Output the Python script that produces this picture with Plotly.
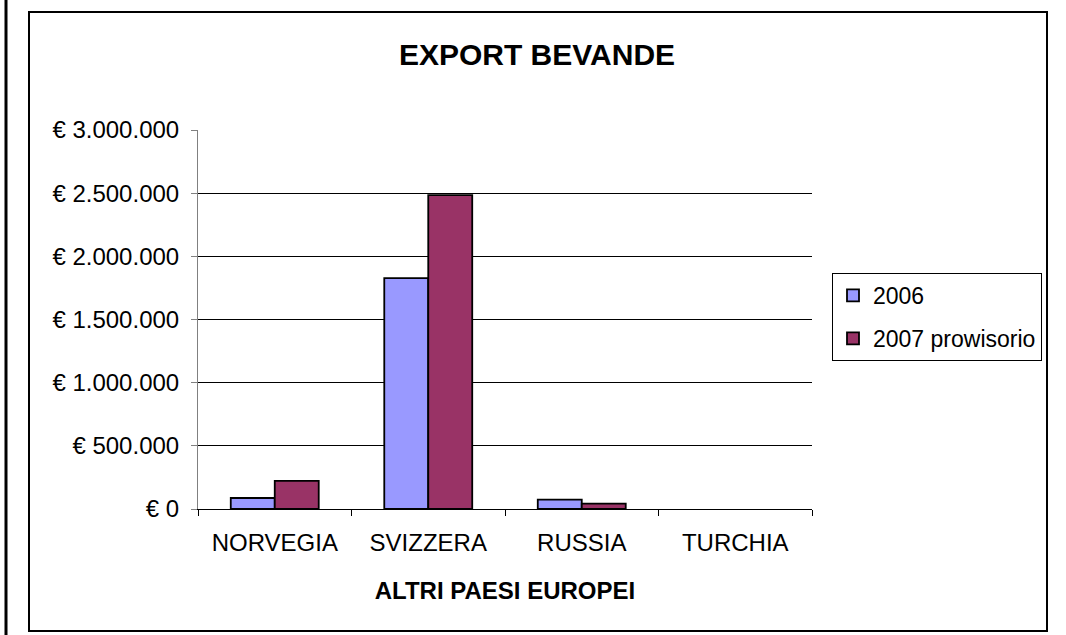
import plotly.graph_objects as go

categories = ["NORVEGIA", "SVIZZERA", "RUSSIA", "TURCHIA"]
series_names = ["2006", "2007 prowisorio"]
values_2006 = [87000, 1828000, 74000, 0]
values_2007 = [222000, 2485000, 42000, 0]
colors = ["#9999FF", "#993366"]
y_tickvals = [0, 500000, 1000000, 1500000, 2000000, 2500000, 3000000]
y_ticktext = ["€ 0", "€ 500.000", "€ 1.000.000", "€ 1.500.000",
              "€ 2.000.000", "€ 2.500.000", "€ 3.000.000"]
title_text = "EXPORT BEVANDE"
x_title = "ALTRI PAESI EUROPEI"

W, H = 1066, 635
L, R, T, B = 198, 812, 130, 509  # plot area in pixels

def px(xp):
    return (xp - L) / (R - L)

def py(yp):
    return (B - yp) / (B - T)

FONT = "Liberation Sans, Arial, sans-serif"

fig = go.Figure()
for name, vals, col in zip(series_names, [values_2006, values_2007], colors):
    fig.add_trace(go.Bar(
        x=categories, y=vals, name=name, legendgroup=name,
        marker=dict(color=col,
                    line=dict(color="black",
                              width=[1.8 if v else 0 for v in vals])),
    ))

fig.update_layout(
    width=W, height=H,
    margin=dict(l=L, r=W - R, t=T, b=H - B, pad=0),
    paper_bgcolor="white", plot_bgcolor="white",
    barmode="group", bargap=0.427, bargroupgap=0,
    font=dict(family=FONT, size=24, color="black"),
    title=dict(text="<b>" + title_text + "</b>", x=537 / W, xref="container",
               xanchor="center", y=1 - 54 / H, yref="container", yanchor="middle",
               font=dict(family=FONT, size=30, color="black")),
    showlegend=True,
    legend=dict(x=px(832), y=py(273), xanchor="left", yanchor="top",
                bordercolor="black", borderwidth=1, bgcolor="white",
                font=dict(family=FONT, size=23, color="black"),
                traceorder="grouped", tracegroupgap=10),
    xaxis=dict(
        showline=True, linecolor="black", linewidth=1,
        ticks="outside", ticklen=6, tickcolor="black", tickson="boundaries",
        showgrid=False, tickfont=dict(family=FONT, size=24),
        ticklabelstandoff=12,
        title=dict(text="<b>" + x_title + "</b>", standoff=27,
                   font=dict(family=FONT, size=24)),
    ),
    yaxis=dict(
        range=[0, 3000000], tickvals=y_tickvals, ticktext=y_ticktext,
        showline=True, linecolor="#808080", linewidth=1,
        ticks="outside", ticklen=6, tickcolor="#808080",
        showgrid=True, gridcolor="black", gridwidth=1,
        zeroline=False, tickfont=dict(family=FONT, size=24),
        ticklabelstandoff=7,
    ),
    shapes=[
        dict(type="rect", xref="paper", yref="paper",
             x0=px(29), x1=px(1047), y0=py(631), y1=py(12),
             line=dict(color="black", width=2), layer="below"),
        dict(type="line", xref="paper", yref="paper",
             x0=px(6), x1=px(6), y0=py(640), y1=py(-5),
             line=dict(color="black", width=3)),
    ],
)

fig.write_html("out.html", config={"displayModeBar": False},
               post_script="document.body.style.margin='0';document.body.style.overflow='hidden';")
